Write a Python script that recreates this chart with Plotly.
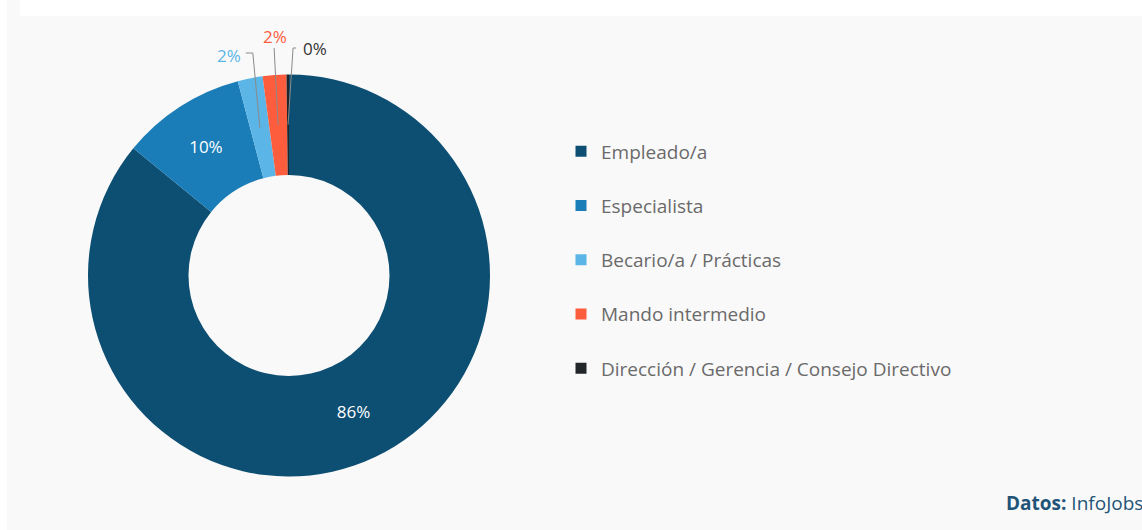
import math
import plotly.graph_objects as go

# ---- data ----
categories = ["Empleado/a", "Especialista", "Becario/a / Prácticas",
              "Mando intermedio", "Dirección / Gerencia / Consejo Directivo"]
values = [85.9, 10.0, 2.0, 1.9, 0.2]
colors = ["#0d4e73", "#1a7db7", "#5bb5e6", "#fd5d3c", "#222529"]
label_colors = ["#ffffff", "#ffffff", "#5bb5e6", "#fd5d3c", "#333333"]
source_bold = "Datos:"
source_text = "InfoJobs"

W, H = 1142, 530
FONT = "Open Sans"

def px(x):
    return x / W

def py(y):
    return 1 - y / H

# pie geometry (pixels)
cx, cy, R = 289, 275.5, 201
hole = 0.5

fig = go.Figure()

fig.add_trace(go.Pie(
    labels=categories,
    values=values,
    sort=False,
    direction="clockwise",
    rotation=0,
    hole=hole,
    marker=dict(colors=colors, line=dict(width=0)),
    texttemplate="%{percent:.0%}",
    textposition=["inside", "inside", "none", "none", "none"],
    insidetextorientation="horizontal",
    textfont=dict(family=FONT, size=17, color="#ffffff"),
    domain=dict(x=[px(cx - R), px(cx + R)], y=[py(cy + R), py(cy - R)]),
    showlegend=False,
    hoverinfo="label+percent",
))

# legend via dummy traces
for i, (cat, col) in enumerate(zip(categories, colors)):
    fig.add_trace(go.Scatter(
        x=[None], y=[None], mode="markers", name=cat,
        marker=dict(symbol="square", size=11, color=col),
        legendgroup=f"g{i}", showlegend=True,
    ))

# leader lines for small slices, computed from the values
total = sum(values)
cum = 0
shapes = []
annotations = []
# style per small slice: (elbow dx, elbow y above center, tick dx, label anchor, label dx, label dy)
leader_style = {
    2: (-7, 222.5, -7, "right", -3, 3),
    3: (-4, 227.5, 0, "center", 1, -11),
    4: (5, 227.5, 3, "left", 5, 1),
}
for i, v in enumerate(values):
    mid = (cum + v / 2) / total * 2 * math.pi
    cum += v
    if i not in leader_style:
        continue
    edx, eup, tdx, anchor, ldx, ldy = leader_style[i]
    r0 = R * (1 + hole) / 2
    sx = cx + r0 * math.sin(mid)
    sy = cy - r0 * math.cos(mid)
    ex = sx + edx
    ey = cy - eup
    tx = ex + tdx
    path = f"M {px(sx)} {py(sy)} L {px(ex)} {py(ey)} L {px(tx)} {py(ey)}"
    shapes.append(dict(type="path", xref="paper", yref="paper", path=path,
                       line=dict(color="#8a8a8a", width=1), layer="above"))
    pct = round(v / total * 100)
    annotations.append(dict(
        x=px(tx + ldx), y=py(ey + ldy), xref="paper", yref="paper",
        text=f"{pct}%", showarrow=False, xanchor=anchor, yanchor="middle",
        font=dict(family=FONT, size=17, color=label_colors[i]),
    ))

# background panels
bg_shapes = [
    dict(type="rect", xref="paper", yref="paper", x0=px(7), x1=1, y0=0, y1=1,
         fillcolor="#f9f9f9", line=dict(width=0), layer="below"),
    dict(type="rect", xref="paper", yref="paper", x0=px(20), x1=1, y0=py(16), y1=1,
         fillcolor="#ffffff", line=dict(width=0), layer="below"),
]

annotations.append(dict(
    x=px(1004), y=py(503), xref="paper", yref="paper",
    text=f"<b>{source_bold}</b> {source_text}", showarrow=False,
    xanchor="left", yanchor="middle",
    font=dict(family=FONT, size=19, color="#1f5478"),
))

fig.update_layout(
    width=W, height=H,
    margin=dict(l=0, r=0, t=0, b=0),
    paper_bgcolor="#ffffff",
    plot_bgcolor="rgba(0,0,0,0)",
    xaxis=dict(visible=False),
    yaxis=dict(visible=False),
    shapes=bg_shapes + shapes,
    annotations=annotations,
    legend=dict(
        x=px(561), y=py(260), xanchor="left", yanchor="middle",
        font=dict(family=FONT, size=19, color="#6a6a6a"),
        tracegroupgap=26.5, traceorder="grouped",
        bgcolor="rgba(0,0,0,0)",
    ),
)

fig.write_html("out.html")
